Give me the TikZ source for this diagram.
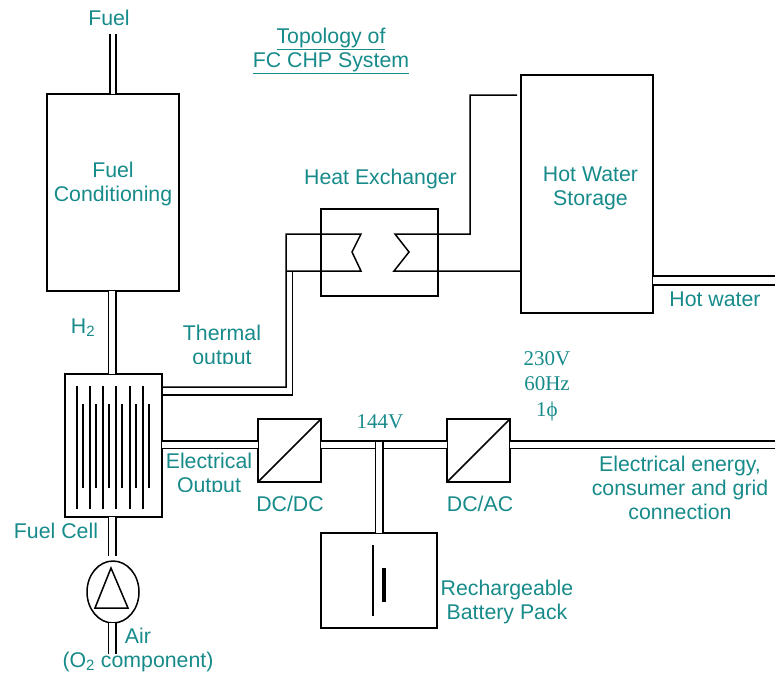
\documentclass[tikz,border=0pt]{standalone}
\usepackage{fontspec}
\setmainfont{Liberation Sans}
\newfontfamily\serifnum{Liberation Serif}
\usepackage{xcolor}
\usetikzlibrary{calc,shapes.geometric}
\definecolor{labelteal}{HTML}{178A8A}
\tikzset{
	txt/.style={text=labelteal, inner sep=0pt, align=center, font=\fontsize{21.3}{24}\selectfont},
	volt/.style={text=labelteal, inner sep=0pt, align=center, font=\fontsize{21}{24}\selectfont\serifnum},
	unitbox/.style={draw, line width=1.5pt, inner sep=0pt, outer sep=0pt},
	line/.style={line width=1.5pt, line join=miter},
	pipe/.style={double, double distance=6pt, line width=1.5pt}
}

\begin{document}
\begin{tikzpicture}[x=1pt, y=-1pt]
		\useasboundingbox (0,0) rectangle (775,677);

		% Units
		\node[unitbox, minimum width=132pt, minimum height=197pt] (fuelbox) at (113,192.5) {};
		\node[unitbox, minimum width=97pt, minimum height=143pt] (fuelcell) at (113.5,445.5) {};
		\node[unitbox, minimum width=117pt, minimum height=87pt] (exchanger) at (379.5,252.5) {};
		\node[unitbox, minimum width=132pt, minimum height=238pt] (storage) at (587,194) {};
		\node[unitbox, minimum width=63pt, minimum height=63pt] (dcdc) at (289.5,450.5) {};
		\node[unitbox, minimum width=63pt, minimum height=63pt] (dcac) at (478.5,450.5) {};
		\node[unitbox, minimum width=116pt, minimum height=95pt] (battery) at (379,580.5) {};
		\node[draw, ellipse, line width=1.5pt, inner sep=0pt, outer sep=0pt, minimum width=52pt, minimum height=62pt] (pump) at (113,592) {};

		% Free ends and bends
		\coordinate (fuelin) at (113,34);
		\coordinate (pumptop) at (112,556);
		\coordinate (airin) at (112,654);
		\coordinate (bus) at (380,444.5);
		\coordinate (bustop) at (379,441.7);
		\coordinate (hotout) at (775,280.5);
		\coordinate (gridout) at (775,444.5);
		\coordinate (leftup) at (361,234);
		\coordinate (leftdown) at (361,271);
		\coordinate (rightup) at (395,234);
		\coordinate (rightdown) at (394,271);
		\coordinate (feedend) at (517,95);

		% Double pipes
		\draw[pipe, double distance=4.7pt] (fuelin) -- (fuelin |- fuelbox.north);
		\draw[pipe] (fuelbox.south -| pumptop) -- (fuelcell.north -| pumptop);
		\draw[pipe] (fuelcell.south -| pumptop) -- (pumptop);
		\draw[pipe] (pump.south -| airin) -- (airin);
		\draw[pipe] (fuelcell.east |- bus) -- (dcdc.west |- bus);
		\draw[pipe] (dcdc.east |- bus) -- (dcac.west |- bus);
		\draw[pipe] (dcac.east |- bus) -- (gridout);
		\draw[pipe] (bustop) -- (battery.north -| bustop);
		\draw[pipe, double distance=7.5pt] (storage.east |- hotout) -- (hotout);

		% Thermal output
		\draw[line] (fuelcell.east |- 0,387) -- (286,387) -- (286,234) -- (leftup) -- (352,252) -- (leftdown) -- (286,271);
		\draw[line] (fuelcell.east |- 0,395) -- (292.5,395) -- (292.5,271);

		% Storage loop
		\draw[line] (feedend) -- (470,95) -- (470,234) -- (rightup) -- (409,252) -- (rightdown) -- (storage.west |- rightdown);

		% Converter diagonals
		\draw[line] (dcdc.south west) -- (dcdc.north east);
		\draw[line] (dcac.south west) -- (dcac.north east);

		% Fuel cell plates
		\foreach \x in {77,90,103,116,130,143}
			\draw[line] (\x,386) -- (\x,509);
		\foreach \x in {83,96,109,122,136,149}
			\draw[line] (\x,404) -- (\x,488);

		% Pump triangle
		\node[inner sep=0pt] (pumpmark) at (pump.center) {};
		\draw[line] ($(pumpmark)+(-2,-24)$) -- ($(pumpmark)+(15,16)$) -- ($(pumpmark)+(-18,16)$) -- cycle;

		% Battery plates
		\draw[line width=1.1pt] (373,545) -- (373,616);
		\draw[line width=4pt] (384,568) -- (384,602);

		% Labels
		\node[txt] (fuellabel) at (109,18) {Fuel};
		\node[txt] (titlelabel) at (331,50.5) {\underline{Topology of}\\\underline{FC CHP System}};
		\node[txt] (condlabel) at (113,183.5) {Fuel\\Conditioning};
		\node[txt] (hxlabel) at (380.5,178.5) {Heat Exchanger};
		\node[txt] (storelabel) at (590.5,188.5) {Hot Water\\Storage};
		\node[txt] (hotlabel) at (715,299) {Hot water};
		\node[txt] (h2label) at (83,328) {H\textsubscript{2}};
		\begin{scope}
			\clip (150,315) rectangle (300,363);
			\node[txt] (thermlabel) at (222,347) {Thermal\\output};
		\end{scope}
		\begin{scope}
			\clip (150,450) rectangle (257,491);
			\node[txt] (eleclabel) at (209,475) {Electrical\\Output};
		\end{scope}
		\node[volt] (buslabel) at (380,422) {144V};
		\node[volt] (acvolt) at (547,359) {230V};
		\node[volt] (achz) at (547,384) {60Hz};
		\node[volt] (acphase) at (547,411) {1ϕ};
		\node[txt] (dcdclabel) at (290,504) {DC/DC};
		\node[txt] (dcaclabel) at (480,503.5) {DC/AC};
		\node[txt] (gridlabel) at (680,488) {Electrical energy,\\consumer and grid\\connection};
		\node[txt] (battlabel) at (507,601.5) {Rechargeable\\Battery Pack};
		\node[txt] (celllabel) at (56,531) {Fuel Cell};
		\node[txt] (airlabel) at (138,650) {Air\\(O\textsubscript{2} component)};
	\end{tikzpicture}
\end{document}
